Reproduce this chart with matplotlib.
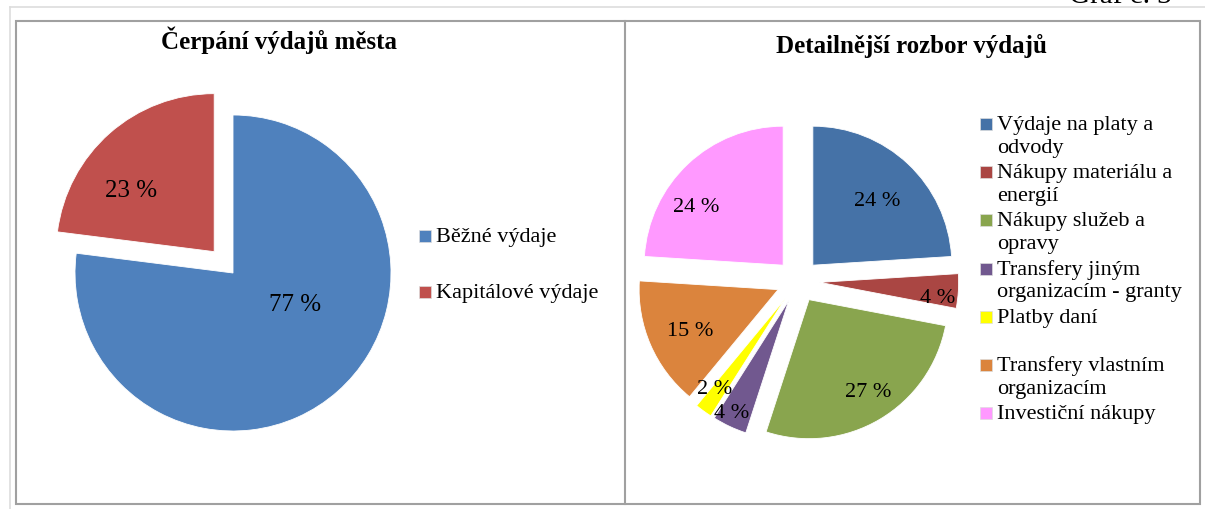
import matplotlib.pyplot as plt
import numpy as np
from matplotlib.patches import Rectangle
from matplotlib.lines import Line2D

plt.rcParams['font.family'] = ['Liberation Serif', 'DejaVu Serif']

# data - levy graf
kat1 = ["Běžné výdaje", "Kapitálové výdaje"]
hod1 = [77, 23]
barvy1 = ["#4F81BD", "#C0504D"]

# data - pravy graf
kat2 = ["Výdaje na platy a\nodvody", "Nákupy materiálu a\nenergií", "Nákupy služeb a\nopravy",
        "Transfery jiným\norganizacím - granty", "Platby daní\n", "Transfery vlastním\norganizacím",
        "Investiční nákupy"]
hod2 = [24, 4, 27, 4, 2, 15, 24]
barvy2 = ["#4572A7", "#AA4643", "#89A54E", "#71588F", "#FFFF00", "#DB843D", "#FF99FF"]

W, H = 1205, 509
fig = plt.figure(figsize=(W / 100, H / 100), dpi=100)

# ramecky (v pixelech)
def px(x, y):
    return x / W, 1 - y / H

fig.add_artist(Line2D([10 / W, 1], [1 - 7 / H] * 2, color="#DDDDDD", lw=1.2))
fig.add_artist(Line2D([10 / W] * 2, [1 - 7 / H, 0], color="#DDDDDD", lw=1.2))
fig.add_artist(Rectangle(px(16, 504), (1200 - 16) / W, (504 - 21) / H, fill=False,
                         edgecolor="#A0A0A0", lw=1.5))
fig.add_artist(Line2D([625 / W] * 2, [1 - 21 / H, 1 - 504 / H], color="#A0A0A0", lw=1.5))

fig.text(*px(1172, 3), "Graf č. 3", ha="right", va="baseline", fontsize=21)

# nadpisy
fig.text(*px(279, 49), "Čerpání výdajů města", ha="center", va="baseline",
         fontsize=18, fontweight="bold")
fig.text(*px(911, 53), "Detailnější rozbor výdajů", ha="center", va="baseline",
         fontsize=18, fontweight="bold")


def kolac(cx, cy, r, hodnoty, barvy, explode, dist, posun, fs):
    half = 180
    ax = fig.add_axes([(cx - half) / W, (H - cy - half) / H, 2 * half / W, 2 * half / H])
    wedges, _ = ax.pie(hodnoty, colors=barvy, startangle=90, counterclock=False,
                       explode=explode, radius=1,
                       wedgeprops=dict(edgecolor="white", linewidth=0.6))
    ax.set_xlim(-half / r, half / r)
    ax.set_ylim(-half / r, half / r)
    ax.set_aspect("equal")
    ax.axis("off")
    # popisky procent
    for w, v, d, s in zip(wedges, hodnoty, dist, posun):
        a = np.deg2rad((w.theta1 + w.theta2) / 2 + s)
        x = w.center[0] + d * np.cos(a)
        y = w.center[1] + d * np.sin(a)
        ax.text(x, y, "%d %%" % v, ha="center", va="center", fontsize=fs)
    return ax


kolac(233, 273, 158, hod1, barvy1, [0, 0.18], [0.44, 0.65], [21.6, 12.3], 18)
kolac(798, 281, 139, hod2, barvy2, [0.156] * 7,
      [0.65, 0.855, 0.79, 0.91, 0.83, 0.70, 0.75],
      [-2, -4.4, 2, -1.6, -1.6, 2, 13], 16)


def legenda(x0, y0, krok, popisky, barvy, fs, radek):
    for i, (p, c) in enumerate(zip(popisky, barvy)):
        yb = y0 + i * krok  # baseline prvniho radku
        fig.add_artist(Rectangle(px(x0, yb), 12 / W, 12 / H, facecolor=c,
                                 edgecolor="#DDDDDD", lw=0.5))
        for j, t in enumerate(p.split("\n")):
            fig.text(*px(x0 + 17, yb + j * radek), t, ha="left", va="baseline", fontsize=fs)


legenda(419, 242, 56, kat1, barvy1, 16, 23)
legenda(980, 130, 48.2, kat2, barvy2, 16, 22.7)

fig.savefig("out.png", dpi=100, facecolor="white")
